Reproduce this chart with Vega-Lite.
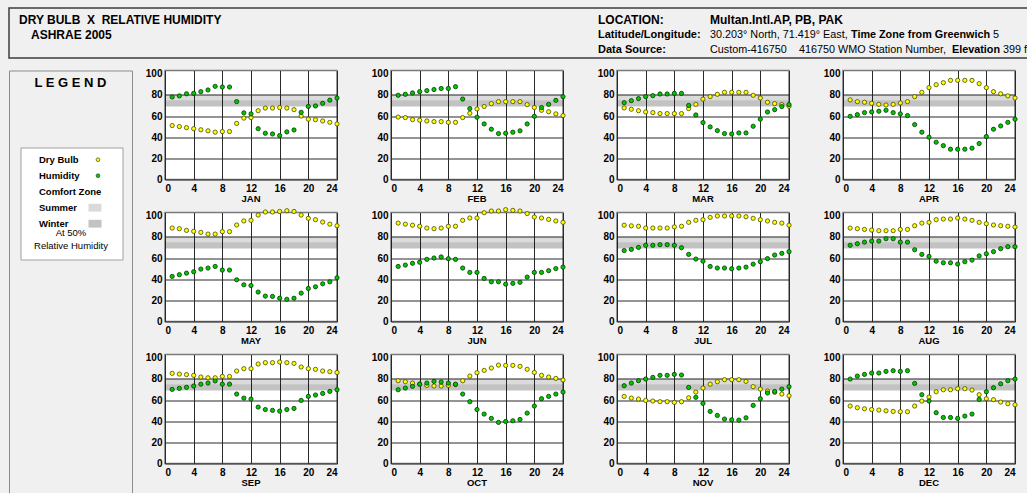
{
  "$schema": "https://vega.github.io/schema/vega-lite/v6.json",
  "description": "Dry bulb temperature and relative humidity by hour, one panel per month, Multan (ASHRAE 2005).",
  "background": "#f0f0f0",
  "padding": {"left": 8, "top": 7, "right": 0, "bottom": 0},
  "spacing": 8.5,
  "vconcat": [
    {
      "width": 1030,
      "height": 50,
      "view": {"fill": "#f0f0f0", "stroke": "#3c3c3c", "strokeWidth": 1.5},
      "encoding": {
        "y": {"field": "line", "type": "ordinal", "scale": {"type": "point", "domain": [1, 2, 3], "range": [12, 42], "padding": 0}, "axis": null},
        "text": {"field": "text"}
      },
      "layer": [
        {
          "data": {"values": [
            {"line": 1, "col": "title", "text": "DRY BULB\u00a0 X \u00a0RELATIVE HUMIDITY"},
            {"line": 2, "col": "sub", "text": "ASHRAE 2005"}
          ]},
          "mark": {"type": "text", "align": "left", "baseline": "middle", "fontSize": 12, "fontWeight": "bold", "color": "#000000"},
          "encoding": {
            "x": {"field": "col", "type": "nominal", "scale": {"type": "point", "domain": ["title", "sub"], "range": [10, 22], "padding": 0}, "axis": null}
          }
        },
        {
          "data": {"values": [
            {"line": 1, "col": "key", "text": "LOCATION:"},
            {"line": 1, "col": "value", "text": "Multan.Intl.AP, PB, PAK"}
          ]},
          "mark": {"type": "text", "align": "left", "baseline": "middle", "fontSize": 12, "fontWeight": "bold", "color": "#000000"},
          "encoding": {
            "x": {"field": "col", "type": "nominal", "scale": {"type": "point", "domain": ["key", "value"], "range": [589, 701], "padding": 0}, "axis": null}
          }
        },
        {
          "data": {"values": [
            {"line": 2, "col": "key", "text": "Latitude/Longitude:"},
            {"line": 3, "col": "key", "text": "Data Source:"}
          ]},
          "mark": {"type": "text", "align": "left", "baseline": "middle", "fontSize": 11, "fontWeight": "bold", "color": "#000000"},
          "encoding": {
            "x": {"field": "col", "type": "nominal", "scale": {"type": "point", "domain": ["key", "value"], "range": [589, 701], "padding": 0}, "axis": null}
          }
        },
        {
          "data": {"values": [
            {"line": 2, "col": "value", "text": "30.203\u00b0 North, 71.419\u00b0 East,"},
            {"line": 3, "col": "value", "text": "Custom-416750"},
            {"line": 3, "col": "station", "text": "416750 WMO Station Number,"}
          ]},
          "mark": {"type": "text", "align": "left", "baseline": "middle", "fontSize": 10.8, "color": "#000000"},
          "encoding": {
            "x": {"field": "col", "type": "nominal", "scale": {"type": "point", "domain": ["value", "station"], "range": [701, 790], "padding": 0}, "axis": null}
          }
        },
        {
          "data": {"values": [
            {"line": 2, "col": "zone", "text": "Time Zone from Greenwich"},
            {"line": 3, "col": "elevation", "text": "Elevation"}
          ]},
          "mark": {"type": "text", "align": "left", "baseline": "middle", "fontSize": 10.8, "fontWeight": "bold", "color": "#000000"},
          "encoding": {
            "x": {"field": "col", "type": "nominal", "scale": {"type": "point", "domain": ["zone", "elevation"], "range": [842, 943], "padding": 0}, "axis": null}
          }
        },
        {
          "data": {"values": [
            {"line": 2, "col": "zone", "text": "5"},
            {"line": 3, "col": "elevation", "text": "399 ft"}
          ]},
          "mark": {"type": "text", "align": "left", "baseline": "middle", "fontSize": 10.8, "color": "#000000"},
          "encoding": {
            "x": {"field": "col", "type": "nominal", "scale": {"type": "point", "domain": ["zone", "elevation"], "range": [984, 994], "padding": 0}, "axis": null}
          }
        }
      ],
      "resolve": {"scale": {"x": "independent"}}
    },
    {
      "spacing": 7,
      "hconcat": [
        {
          "width": 123,
          "height": 424,
          "view": {"fill": "#f0f0f0", "stroke": "#8c8c8c", "strokeWidth": 1},
          "title": {
            "text": "L E G E N D",
            "orient": "top",
            "anchor": "middle",
            "frame": "group",
            "offset": -19.5,
            "fontSize": 13,
            "fontWeight": "bold",
            "color": "#000000"
          },
          "layer": [
            {
              "data": {"values": [{"box": "legend"}]},
              "mark": {"type": "rect", "fill": "#ffffff", "stroke": "#a0a0a0", "strokeWidth": 1},
              "encoding": {
                "x": {"datum": 0, "type": "quantitative", "scale": {"domain": [0, 1], "range": [12, 114]}, "axis": null},
                "x2": {"datum": 1},
                "y": {"datum": 0, "type": "quantitative", "scale": {"domain": [0, 1], "range": [77.5, 189.5]}, "axis": null},
                "y2": {"datum": 1}
              }
            },
            {
              "data": {"values": [{"item": "Dry Bulb"}, {"item": "Humidity"}, {"item": "Comfort Zone"}, {"item": "Summer"}, {"item": "Winter"}]},
              "mark": {"type": "text", "align": "left", "baseline": "middle", "fontSize": 9.5, "fontWeight": "bold", "color": "#000000"},
              "encoding": {
                "x": {"datum": "label", "type": "nominal", "scale": {"type": "point", "domain": ["label", "symbol"], "range": [30, 88], "padding": 0}, "axis": null},
                "y": {"field": "item", "type": "nominal", "scale": {"type": "point", "domain": ["Dry Bulb", "Humidity", "Comfort Zone", "Summer", "Winter"], "range": [89.2, 153.2], "padding": 0}, "axis": null},
                "text": {"field": "item"}
              }
            },
            {
              "data": {"values": [{"item": "Dry Bulb"}, {"item": "Humidity"}]},
              "mark": {"type": "point", "filled": true, "size": 14, "stroke": "#404040", "strokeWidth": 0.7, "opacity": 1},
              "encoding": {
                "x": {"datum": "symbol", "type": "nominal", "scale": {"type": "point", "domain": ["label", "symbol"], "range": [30, 89], "padding": 0}, "axis": null},
                "y": {"field": "item", "type": "nominal", "scale": {"type": "point", "domain": ["Dry Bulb", "Humidity", "Comfort Zone", "Summer", "Winter"], "range": [89.2, 153.2], "padding": 0}, "axis": null},
                "fill": {"field": "item", "type": "nominal", "scale": {"domain": ["Dry Bulb", "Humidity", "Summer", "Winter"], "range": ["#ffff00", "#00c800", "#dadada", "#c3c3c3"]}, "legend": null}
              }
            },
            {
              "data": {"values": [{"item": "Summer"}, {"item": "Winter"}]},
              "mark": {"type": "point", "filled": true, "size": 169, "shape": "M-1,-0.6L1,-0.6L1,0.6L-1,0.6Z", "strokeWidth": 0, "opacity": 1},
              "encoding": {
                "x": {"datum": "symbol", "type": "nominal", "scale": {"type": "point", "domain": ["label", "symbol"], "range": [30, 86], "padding": 0}, "axis": null},
                "y": {"field": "item", "type": "nominal", "scale": {"type": "point", "domain": ["Dry Bulb", "Humidity", "Comfort Zone", "Summer", "Winter"], "range": [89.2, 153.2], "padding": 0}, "axis": null},
                "fill": {"field": "item", "type": "nominal", "scale": {"domain": ["Dry Bulb", "Humidity", "Summer", "Winter"], "range": ["#ffff00", "#00c800", "#dadada", "#c3c3c3"]}, "legend": null}
              }
            },
            {
              "data": {"values": [{"item": "At 50%"}]},
              "mark": {"type": "text", "align": "center", "baseline": "middle", "fontSize": 9.5, "lineHeight": 13, "color": "#000000"},
              "encoding": {
                "x": {"datum": "note", "type": "nominal", "scale": {"type": "point", "domain": ["note"], "range": [60, 64], "padding": 0}, "axis": null},
                "y": {"field": "item", "type": "nominal", "scale": {"type": "point", "domain": ["At 50%"], "range": [161.5, 163.5], "padding": 0}, "axis": null},
                "text": {"value": ["At 50%", "Relative Humidity"]}
              }
            }
          ],
          "resolve": {"scale": {"x": "independent", "y": "independent"}}
        },
        {
          "data": {"values": [
            {"m":"JAN","h":1,"db":51,"rh":78},{"m":"JAN","h":2,"db":50,"rh":79},{"m":"JAN","h":3,"db":49,"rh":81},{"m":"JAN","h":4,"db":48,"rh":81.4},{"m":"JAN","h":5,"db":47,"rh":83},{"m":"JAN","h":6,"db":46,"rh":84.6},{"m":"JAN","h":7,"db":44.7,"rh":88},{"m":"JAN","h":8,"db":45.3,"rh":87.4},{"m":"JAN","h":9,"db":45.3,"rh":87.4},{"m":"JAN","h":10,"db":53,"rh":73.6},{"m":"JAN","h":11,"db":58,"rh":63},{"m":"JAN","h":12,"db":58.5,"rh":62},{"m":"JAN","h":13,"db":65,"rh":48},{"m":"JAN","h":14,"db":67.5,"rh":43.7},{"m":"JAN","h":15,"db":67.5,"rh":43},{"m":"JAN","h":16,"db":68,"rh":41.5},{"m":"JAN","h":17,"db":67.5,"rh":45},{"m":"JAN","h":18,"db":66,"rh":46.8},{"m":"JAN","h":19,"db":60,"rh":63.5},{"m":"JAN","h":20,"db":57,"rh":69},{"m":"JAN","h":21,"db":56.5,"rh":69.5},{"m":"JAN","h":22,"db":55.3,"rh":72},{"m":"JAN","h":23,"db":54,"rh":75},{"m":"JAN","h":24,"db":52.5,"rh":77},
            {"m":"FEB","h":1,"db":59,"rh":79.6},{"m":"FEB","h":2,"db":58.5,"rh":80.5},{"m":"FEB","h":3,"db":56.6,"rh":81.8},{"m":"FEB","h":4,"db":56,"rh":83},{"m":"FEB","h":5,"db":55.3,"rh":84},{"m":"FEB","h":6,"db":54.7,"rh":85},{"m":"FEB","h":7,"db":54.7,"rh":86},{"m":"FEB","h":8,"db":54,"rh":86},{"m":"FEB","h":9,"db":54,"rh":87.7},{"m":"FEB","h":10,"db":58.5,"rh":76},{"m":"FEB","h":11,"db":62.6,"rh":67},{"m":"FEB","h":12,"db":66.7,"rh":58.8},{"m":"FEB","h":13,"db":69,"rh":52.5},{"m":"FEB","h":14,"db":71.7,"rh":47.5},{"m":"FEB","h":15,"db":73.6,"rh":43.4},{"m":"FEB","h":16,"db":73.6,"rh":43.7},{"m":"FEB","h":17,"db":73.6,"rh":44.7},{"m":"FEB","h":18,"db":73.6,"rh":46},{"m":"FEB","h":19,"db":70.8,"rh":52.5},{"m":"FEB","h":20,"db":68,"rh":59.7},{"m":"FEB","h":21,"db":65.4,"rh":68},{"m":"FEB","h":22,"db":64,"rh":71},{"m":"FEB","h":23,"db":62,"rh":74.8},{"m":"FEB","h":24,"db":60.4,"rh":78.3},
            {"m":"MAR","h":1,"db":67.6,"rh":72.6},{"m":"MAR","h":2,"db":66.4,"rh":74.5},{"m":"MAR","h":3,"db":65,"rh":76.4},{"m":"MAR","h":4,"db":63.8,"rh":78.3},{"m":"MAR","h":5,"db":63.2,"rh":79.2},{"m":"MAR","h":6,"db":62.3,"rh":80.8},{"m":"MAR","h":7,"db":62.3,"rh":80.8},{"m":"MAR","h":8,"db":62.3,"rh":81.4},{"m":"MAR","h":9,"db":62.3,"rh":81.4},{"m":"MAR","h":10,"db":67,"rh":70},{"m":"MAR","h":11,"db":71,"rh":61},{"m":"MAR","h":12,"db":76,"rh":53.8},{"m":"MAR","h":13,"db":78.3,"rh":49.7},{"m":"MAR","h":14,"db":80.5,"rh":46.2},{"m":"MAR","h":15,"db":82.4,"rh":43.4},{"m":"MAR","h":16,"db":82.4,"rh":43},{"m":"MAR","h":17,"db":82.4,"rh":44},{"m":"MAR","h":18,"db":82.4,"rh":44},{"m":"MAR","h":19,"db":79.6,"rh":50.3},{"m":"MAR","h":20,"db":77,"rh":57},{"m":"MAR","h":21,"db":73,"rh":63.8},{"m":"MAR","h":22,"db":71.7,"rh":66},{"m":"MAR","h":23,"db":70.8,"rh":68.9},{"m":"MAR","h":24,"db":69.2,"rh":70.8},
            {"m":"APR","h":1,"db":75.2,"rh":59.7},{"m":"APR","h":2,"db":73.6,"rh":61.3},{"m":"APR","h":3,"db":73,"rh":63.2},{"m":"APR","h":4,"db":72,"rh":63.8},{"m":"APR","h":5,"db":71,"rh":64.5},{"m":"APR","h":6,"db":70.4,"rh":65.4},{"m":"APR","h":7,"db":71,"rh":63.2},{"m":"APR","h":8,"db":72.3,"rh":62},{"m":"APR","h":9,"db":73.6,"rh":60.4},{"m":"APR","h":10,"db":78.3,"rh":51.9},{"m":"APR","h":11,"db":82.4,"rh":44.7},{"m":"APR","h":12,"db":86.8,"rh":40},{"m":"APR","h":13,"db":89.6,"rh":35.2},{"m":"APR","h":14,"db":91.5,"rh":32},{"m":"APR","h":15,"db":93.7,"rh":28.6},{"m":"APR","h":16,"db":93.7,"rh":28.6},{"m":"APR","h":17,"db":93.7,"rh":28.6},{"m":"APR","h":18,"db":93.7,"rh":29.6},{"m":"APR","h":19,"db":90.6,"rh":34},{"m":"APR","h":20,"db":86.8,"rh":40.6},{"m":"APR","h":21,"db":83,"rh":47.5},{"m":"APR","h":22,"db":81,"rh":50.6},{"m":"APR","h":23,"db":79,"rh":54},{"m":"APR","h":24,"db":77,"rh":57},
            {"m":"MAY","h":1,"db":88.3,"rh":42.6},{"m":"MAY","h":2,"db":87.7,"rh":44.2},{"m":"MAY","h":3,"db":86.1,"rh":45.7},{"m":"MAY","h":4,"db":85.2,"rh":47},{"m":"MAY","h":5,"db":84.2,"rh":49.5},{"m":"MAY","h":6,"db":82.6,"rh":50.5},{"m":"MAY","h":7,"db":82.6,"rh":52},{"m":"MAY","h":8,"db":84.9,"rh":48.6},{"m":"MAY","h":9,"db":84.9,"rh":48.6},{"m":"MAY","h":10,"db":91.2,"rh":39.4},{"m":"MAY","h":11,"db":95,"rh":34.7},{"m":"MAY","h":12,"db":95.6,"rh":34},{"m":"MAY","h":13,"db":100.6,"rh":27.8},{"m":"MAY","h":14,"db":103.5,"rh":24},{"m":"MAY","h":15,"db":103.5,"rh":23.7},{"m":"MAY","h":16,"db":104,"rh":22},{"m":"MAY","h":17,"db":104.7,"rh":21},{"m":"MAY","h":18,"db":104,"rh":22},{"m":"MAY","h":19,"db":100.6,"rh":26.8},{"m":"MAY","h":20,"db":97.5,"rh":31.2},{"m":"MAY","h":21,"db":96.2,"rh":32.8},{"m":"MAY","h":22,"db":94,"rh":35.6},{"m":"MAY","h":23,"db":92,"rh":37.5},{"m":"MAY","h":24,"db":90.5,"rh":41.3},
            {"m":"JUN","h":1,"db":93,"rh":52},{"m":"JUN","h":2,"db":92,"rh":53.3},{"m":"JUN","h":3,"db":91,"rh":55},{"m":"JUN","h":4,"db":90,"rh":56},{"m":"JUN","h":5,"db":88.3,"rh":58.7},{"m":"JUN","h":6,"db":87.7,"rh":60},{"m":"JUN","h":7,"db":88.3,"rh":61},{"m":"JUN","h":8,"db":90,"rh":59.3},{"m":"JUN","h":9,"db":90,"rh":58.7},{"m":"JUN","h":10,"db":95.6,"rh":50.5},{"m":"JUN","h":11,"db":97.8,"rh":46.4},{"m":"JUN","h":12,"db":97.8,"rh":46.4},{"m":"JUN","h":13,"db":102.8,"rh":40.7},{"m":"JUN","h":14,"db":104.4,"rh":37.5},{"m":"JUN","h":15,"db":104.4,"rh":37.5},{"m":"JUN","h":16,"db":105.7,"rh":35.3},{"m":"JUN","h":17,"db":105,"rh":36},{"m":"JUN","h":18,"db":104.4,"rh":37},{"m":"JUN","h":19,"db":102,"rh":42},{"m":"JUN","h":20,"db":98.7,"rh":46.4},{"m":"JUN","h":21,"db":97.8,"rh":46.4},{"m":"JUN","h":22,"db":96.5,"rh":48},{"m":"JUN","h":23,"db":95,"rh":50},{"m":"JUN","h":24,"db":93.7,"rh":51.4},
            {"m":"JUL","h":1,"db":91,"rh":67},{"m":"JUL","h":2,"db":90.4,"rh":68.1},{"m":"JUL","h":3,"db":90,"rh":70},{"m":"JUL","h":4,"db":88.3,"rh":72},{"m":"JUL","h":5,"db":88.3,"rh":72},{"m":"JUL","h":6,"db":88.3,"rh":72.6},{"m":"JUL","h":7,"db":88.3,"rh":72.6},{"m":"JUL","h":8,"db":89.4,"rh":72},{"m":"JUL","h":9,"db":90,"rh":69.7},{"m":"JUL","h":10,"db":93.7,"rh":63.4},{"m":"JUL","h":11,"db":95.6,"rh":59},{"m":"JUL","h":12,"db":96.2,"rh":57},{"m":"JUL","h":13,"db":98.4,"rh":52},{"m":"JUL","h":14,"db":99.7,"rh":50.5},{"m":"JUL","h":15,"db":99.7,"rh":50.5},{"m":"JUL","h":16,"db":99.7,"rh":49.8},{"m":"JUL","h":17,"db":99.7,"rh":50.5},{"m":"JUL","h":18,"db":99,"rh":51.4},{"m":"JUL","h":19,"db":97.5,"rh":54.2},{"m":"JUL","h":20,"db":96.2,"rh":56.5},{"m":"JUL","h":21,"db":95,"rh":59.4},{"m":"JUL","h":22,"db":93.7,"rh":62.8},{"m":"JUL","h":23,"db":93,"rh":64.4},{"m":"JUL","h":24,"db":91,"rh":66},
            {"m":"AUG","h":1,"db":88.3,"rh":72},{"m":"AUG","h":2,"db":87.7,"rh":73.5},{"m":"AUG","h":3,"db":87,"rh":75},{"m":"AUG","h":4,"db":86.4,"rh":76},{"m":"AUG","h":5,"db":85.8,"rh":76},{"m":"AUG","h":6,"db":85.8,"rh":78.2},{"m":"AUG","h":7,"db":85.8,"rh":78.2},{"m":"AUG","h":8,"db":87,"rh":75},{"m":"AUG","h":9,"db":87,"rh":75},{"m":"AUG","h":10,"db":90.5,"rh":67.8},{"m":"AUG","h":11,"db":93,"rh":63.4},{"m":"AUG","h":12,"db":93.7,"rh":61.5},{"m":"AUG","h":13,"db":96.2,"rh":57},{"m":"AUG","h":14,"db":96.8,"rh":55.5},{"m":"AUG","h":15,"db":96.8,"rh":55.5},{"m":"AUG","h":16,"db":97.8,"rh":54.3},{"m":"AUG","h":17,"db":96.8,"rh":56.5},{"m":"AUG","h":18,"db":95.6,"rh":58},{"m":"AUG","h":19,"db":93.7,"rh":62},{"m":"AUG","h":20,"db":92.4,"rh":64},{"m":"AUG","h":21,"db":91.2,"rh":66},{"m":"AUG","h":22,"db":90.5,"rh":68.8},{"m":"AUG","h":23,"db":90,"rh":70.7},{"m":"AUG","h":24,"db":89.3,"rh":70.7},
            {"m":"SEP","h":1,"db":85.2,"rh":70},{"m":"SEP","h":2,"db":84.5,"rh":71},{"m":"SEP","h":3,"db":84,"rh":72},{"m":"SEP","h":4,"db":83.3,"rh":73.2},{"m":"SEP","h":5,"db":81.7,"rh":75},{"m":"SEP","h":6,"db":81,"rh":76},{"m":"SEP","h":7,"db":81,"rh":78},{"m":"SEP","h":8,"db":82.3,"rh":75},{"m":"SEP","h":9,"db":82.3,"rh":75},{"m":"SEP","h":10,"db":87.4,"rh":65.6},{"m":"SEP","h":11,"db":89.6,"rh":61.8},{"m":"SEP","h":12,"db":89.6,"rh":60.9},{"m":"SEP","h":13,"db":94,"rh":53.3},{"m":"SEP","h":14,"db":95.3,"rh":51},{"m":"SEP","h":15,"db":95.3,"rh":50.2},{"m":"SEP","h":16,"db":95.9,"rh":49.5},{"m":"SEP","h":17,"db":95.3,"rh":51},{"m":"SEP","h":18,"db":94.6,"rh":52},{"m":"SEP","h":19,"db":91.2,"rh":59.6},{"m":"SEP","h":20,"db":89.6,"rh":63.4},{"m":"SEP","h":21,"db":89,"rh":64.7},{"m":"SEP","h":22,"db":87.4,"rh":66.2},{"m":"SEP","h":23,"db":86.8,"rh":68.1},{"m":"SEP","h":24,"db":86,"rh":69.7},
            {"m":"OCT","h":1,"db":78.2,"rh":69.7},{"m":"OCT","h":2,"db":77.3,"rh":71.3},{"m":"OCT","h":3,"db":76,"rh":72.9},{"m":"OCT","h":4,"db":75,"rh":75},{"m":"OCT","h":5,"db":73.8,"rh":76},{"m":"OCT","h":6,"db":73.2,"rh":77.6},{"m":"OCT","h":7,"db":73.2,"rh":77},{"m":"OCT","h":8,"db":73.8,"rh":76},{"m":"OCT","h":9,"db":74.5,"rh":75},{"m":"OCT","h":10,"db":78.2,"rh":65.6},{"m":"OCT","h":11,"db":82.6,"rh":58.4},{"m":"OCT","h":12,"db":85.8,"rh":51},{"m":"OCT","h":13,"db":88,"rh":46.7},{"m":"OCT","h":14,"db":90.2,"rh":42.6},{"m":"OCT","h":15,"db":93,"rh":38.8},{"m":"OCT","h":16,"db":92.7,"rh":39.7},{"m":"OCT","h":17,"db":92.7,"rh":40.4},{"m":"OCT","h":18,"db":91.8,"rh":41.6},{"m":"OCT","h":19,"db":89,"rh":47.6},{"m":"OCT","h":20,"db":86,"rh":54.3},{"m":"OCT","h":21,"db":83.3,"rh":61.2},{"m":"OCT","h":22,"db":81.7,"rh":63.4},{"m":"OCT","h":23,"db":80.4,"rh":65.6},{"m":"OCT","h":24,"db":78.9,"rh":67.5},
            {"m":"NOV","h":1,"db":63.4,"rh":73.5},{"m":"NOV","h":2,"db":61.8,"rh":76},{"m":"NOV","h":3,"db":60.9,"rh":78.2},{"m":"NOV","h":4,"db":59.6,"rh":79.8},{"m":"NOV","h":5,"db":59,"rh":81.4},{"m":"NOV","h":6,"db":58.4,"rh":83.3},{"m":"NOV","h":7,"db":58.4,"rh":83.3},{"m":"NOV","h":8,"db":57.7,"rh":84.2},{"m":"NOV","h":9,"db":58.4,"rh":83.6},{"m":"NOV","h":10,"db":62.1,"rh":71.9},{"m":"NOV","h":11,"db":67.5,"rh":62.5},{"m":"NOV","h":12,"db":71.3,"rh":56.8},{"m":"NOV","h":13,"db":75,"rh":49.2},{"m":"NOV","h":14,"db":77.3,"rh":45.4},{"m":"NOV","h":15,"db":79.2,"rh":42},{"m":"NOV","h":16,"db":79.2,"rh":41.3},{"m":"NOV","h":17,"db":79.2,"rh":41},{"m":"NOV","h":18,"db":77.6,"rh":43.2},{"m":"NOV","h":19,"db":72.6,"rh":54.9},{"m":"NOV","h":20,"db":70.3,"rh":61.2},{"m":"NOV","h":21,"db":68.5,"rh":66.6},{"m":"NOV","h":22,"db":67.2,"rh":68.1},{"m":"NOV","h":23,"db":65.6,"rh":70.3},{"m":"NOV","h":24,"db":64,"rh":72.6},
            {"m":"DEC","h":1,"db":54.3,"rh":79.8},{"m":"DEC","h":2,"db":52.7,"rh":82.6},{"m":"DEC","h":3,"db":51.7,"rh":84.2},{"m":"DEC","h":4,"db":51,"rh":85.5},{"m":"DEC","h":5,"db":50.5,"rh":85.5},{"m":"DEC","h":6,"db":49.8,"rh":87},{"m":"DEC","h":7,"db":49.2,"rh":87.7},{"m":"DEC","h":8,"db":48.9,"rh":87},{"m":"DEC","h":9,"db":48.9,"rh":87.7},{"m":"DEC","h":10,"db":54.3,"rh":75.7},{"m":"DEC","h":11,"db":59,"rh":65},{"m":"DEC","h":12,"db":62.8,"rh":59},{"m":"DEC","h":13,"db":67.8,"rh":48},{"m":"DEC","h":14,"db":69.7,"rh":43.5},{"m":"DEC","h":15,"db":69.7,"rh":43.5},{"m":"DEC","h":16,"db":70.7,"rh":42.6},{"m":"DEC","h":17,"db":70.7,"rh":44.8},{"m":"DEC","h":18,"db":69.4,"rh":46.7},{"m":"DEC","h":19,"db":65,"rh":60.6},{"m":"DEC","h":20,"db":61.2,"rh":67.8},{"m":"DEC","h":21,"db":60.3,"rh":71.6},{"m":"DEC","h":22,"db":58,"rh":75.3},{"m":"DEC","h":23,"db":56.5,"rh":78.2},{"m":"DEC","h":24,"db":55.5,"rh":79.8}
          ]},
          "facet": {
            "field": "m",
            "type": "nominal",
            "sort": ["JAN", "FEB", "MAR", "APR", "MAY", "JUN", "JUL", "AUG", "SEP", "OCT", "NOV", "DEC"],
            "header": {"title": null, "labelOrient": "bottom", "labelFont": "Liberation Sans", "labelFontWeight": "bold", "labelFontSize": 9.5, "labelColor": "#000000", "labelPadding": 0}
          },
          "columns": 4,
          "spacing": {"row": 0, "column": 24},
          "spec": {
            "width": 172,
            "height": 109,
            "view": {"fill": "#ffffff", "stroke": "#7a7a7a", "strokeWidth": 1.5},
            "layer": [
              {
                "transform": [{"filter": "datum.h == 1"}],
                "mark": {"type": "rect", "fill": "#000000", "fillOpacity": 0.14},
                "encoding": {
                  "x": {"datum": 0, "type": "quantitative"},
                  "x2": {"datum": 24},
                  "y": {"datum": 75, "type": "quantitative"},
                  "y2": {"datum": 80}
                }
              },
              {
                "transform": [{"filter": "datum.h == 1"}],
                "mark": {"type": "rect", "fill": "#000000", "fillOpacity": 0.24},
                "encoding": {
                  "x": {"datum": 0, "type": "quantitative"},
                  "x2": {"datum": 24},
                  "y": {"datum": 69, "type": "quantitative"},
                  "y2": {"datum": 75}
                }
              },
              {
                "mark": {"type": "point", "filled": true, "fill": "#ffff00", "stroke": "#4a4a00", "strokeWidth": 0.8, "size": 18, "opacity": 1},
                "encoding": {
                  "x": {"field": "h", "type": "quantitative", "title": null, "scale": {"domain": [0, 24], "nice": false}, "axis": {"values": [0, 4, 8, 12, 16, 20, 24], "tickCount": 12, "labelPadding": 4, "grid": true}},
                  "y": {"field": "db", "type": "quantitative", "title": null, "scale": {"domain": [0, 103], "nice": false}, "axis": {"values": [0, 20, 40, 60, 80, 100], "tickCount": 12, "labelPadding": 3, "minExtent": 24, "maxExtent": 24, "grid": true, "gridOpacity": {"condition": {"test": "datum.value >= 100", "value": 0}, "value": 1}}}
                }
              },
              {
                "mark": {"type": "point", "filled": true, "fill": "#00c800", "stroke": "#003800", "strokeWidth": 0.8, "size": 18, "opacity": 1},
                "encoding": {
                  "x": {"field": "h", "type": "quantitative", "title": null, "scale": {"domain": [0, 24], "nice": false}, "axis": {"values": [0, 4, 8, 12, 16, 20, 24], "tickCount": 12, "labelPadding": 4, "grid": true}},
                  "y": {"field": "rh", "type": "quantitative", "title": null, "scale": {"domain": [0, 103], "nice": false}, "axis": {"values": [0, 20, 40, 60, 80, 100], "tickCount": 12, "labelPadding": 3, "minExtent": 24, "maxExtent": 24, "grid": true, "gridOpacity": {"condition": {"test": "datum.value >= 100", "value": 0}, "value": 1}}}
                }
              }
            ]
          },
          "resolve": {"axis": {"x": "independent", "y": "independent"}}
        }
      ]
    }
  ],
  "config": {
    "font": "Liberation Sans",
    "view": {"stroke": null},
    "axis": {
      "labelFont": "Liberation Sans",
      "labelFontWeight": "bold",
      "labelFontSize": 10,
      "labelColor": "#000000",
      "ticks": false,
      "tickSize": 0,
      "domain": false,
      "gridColor": "#2a2a2a",
      "gridWidth": 1,
      "labelOverlap": false
    }
  }
}
